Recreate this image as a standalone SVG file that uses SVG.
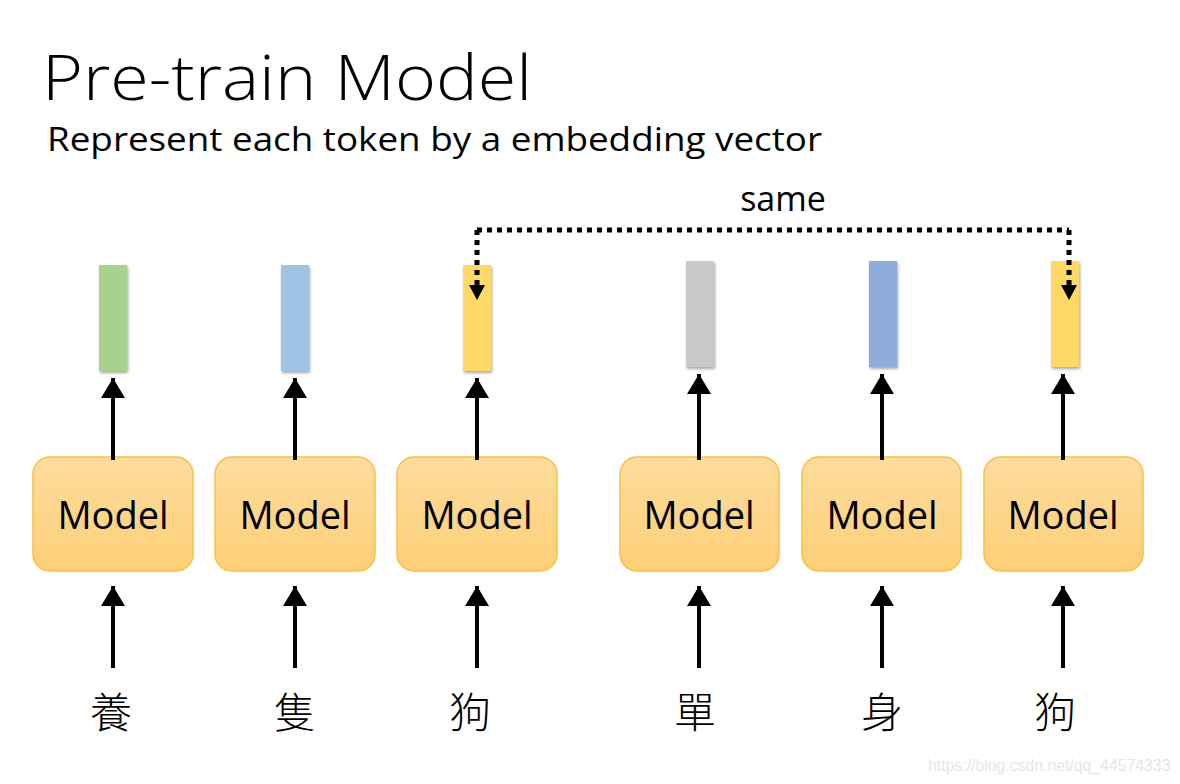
<svg xmlns="http://www.w3.org/2000/svg" width="1180" height="784" viewBox="0 0 1180 784">
<style>
.title{font-family:"Open Sans","Liberation Sans",sans-serif;font-weight:300;font-size:62px;fill:#000}
.sub{font-family:"Open Sans","Liberation Sans",sans-serif;font-size:33px;fill:#000}
.lbl{font-family:"Open Sans","Liberation Sans",sans-serif;font-size:34px;fill:#000;text-anchor:middle}
.mdl{font-family:"Open Sans","Liberation Sans",sans-serif;font-size:38px;fill:#000;text-anchor:middle}
.cjk{font-family:"Noto Sans CJK TC","Noto Sans CJK SC",sans-serif;font-weight:300;font-size:42px;fill:#000;text-anchor:middle}
.box{fill:url(#g);stroke:#F6C143;stroke-width:1.5}
.arr{stroke:#000;stroke-width:4;fill:none;marker-end:url(#ah)}
.dot{stroke:#000;stroke-width:5;fill:none;stroke-dasharray:5 5;marker-end:url(#ah3)}
.wm{font-family:"Liberation Sans",Arial,sans-serif;font-size:15.8px;fill:#e6e6e6}
</style>
<defs>
<linearGradient id="g" x1="0" y1="0" x2="0" y2="1"><stop offset="0" stop-color="#FEDC9E"/><stop offset="1" stop-color="#FDCF77"/></linearGradient>
<marker id="ah" markerWidth="6" markerHeight="6" refX="5" refY="3" orient="auto" markerUnits="strokeWidth"><path d="M0,0 L5,3 L0,6 Z" fill="#000"/></marker>
<marker id="ah3" markerWidth="18" markerHeight="18" refX="2" refY="8" orient="auto" markerUnits="userSpaceOnUse"><path d="M0,0 L15,8 L0,16 Z" fill="#000"/></marker>
<filter id="sh" x="-30%" y="-10%" width="160%" height="130%"><feDropShadow dx="1" dy="2" stdDeviation="1.5" flood-color="#000" flood-opacity="0.35"/></filter>
</defs>
<rect width="1180" height="784" fill="#fff"/>
<text class="title" x="42" y="100" textLength="490" lengthAdjust="spacingAndGlyphs">Pre-train Model</text>
<text class="sub" x="47" y="151" textLength="775" lengthAdjust="spacingAndGlyphs">Represent each token by a embedding vector</text>
<text class="lbl" x="783" y="211">same</text>

<g id="vec1"><rect x="99" y="265" width="28" height="106" fill="#A9D18E" filter="url(#sh)"/></g>
<g id="vec2"><rect x="281" y="265" width="28" height="106" fill="#9DC3E6" filter="url(#sh)"/></g>
<g id="vec3"><rect x="463" y="265" width="28" height="106" fill="#FFD966" filter="url(#sh)"/></g>
<g id="vec4"><rect x="686" y="261" width="28" height="106" fill="#C9C9C9" filter="url(#sh)"/></g>
<g id="vec5"><rect x="869" y="261" width="28" height="106" fill="#8FAADC" filter="url(#sh)"/></g>
<g id="vec6"><rect x="1051" y="261" width="28" height="106" fill="#FFD966" filter="url(#sh)"/></g>

<g id="model1"><rect class="box" x="33" y="457" width="160" height="114" rx="17"/><text class="mdl" x="113" y="529">Model</text></g>
<g id="model2"><rect class="box" x="215" y="457" width="160" height="114" rx="17"/><text class="mdl" x="295" y="529">Model</text></g>
<g id="model3"><rect class="box" x="397" y="457" width="160" height="114" rx="17"/><text class="mdl" x="477" y="529">Model</text></g>
<g id="model4"><rect class="box" x="620" y="457" width="159" height="114" rx="17"/><text class="mdl" x="699" y="529">Model</text></g>
<g id="model5"><rect class="box" x="802" y="457" width="159" height="114" rx="17"/><text class="mdl" x="882" y="529">Model</text></g>
<g id="model6"><rect class="box" x="984" y="457" width="159" height="114" rx="17"/><text class="mdl" x="1063" y="529">Model</text></g>

<g id="tok1"><text class="cjk" x="111" y="728">養</text></g>
<g id="tok2"><text class="cjk" x="295" y="728">隻</text></g>
<g id="tok3"><text class="cjk" x="470" y="728">狗</text></g>
<g id="tok4"><text class="cjk" x="695" y="728">單</text></g>
<g id="tok5"><text class="cjk" x="882" y="728">身</text></g>
<g id="tok6"><text class="cjk" x="1055" y="728">狗</text></g>

<g id="connectors">
<line class="arr" x1="113" y1="668" x2="113" y2="586"/>
<line class="arr" x1="295" y1="668" x2="295" y2="586"/>
<line class="arr" x1="477" y1="668" x2="477" y2="586"/>
<line class="arr" x1="699" y1="668" x2="699" y2="586"/>
<line class="arr" x1="882" y1="668" x2="882" y2="586"/>
<line class="arr" x1="1063" y1="668" x2="1063" y2="586"/>
<line class="arr" x1="113" y1="460" x2="113" y2="378"/>
<line class="arr" x1="295" y1="460" x2="295" y2="378"/>
<line class="arr" x1="477" y1="460" x2="477" y2="378"/>
<line class="arr" x1="699" y1="460" x2="699" y2="374"/>
<line class="arr" x1="882" y1="460" x2="882" y2="374"/>
<line class="arr" x1="1063" y1="460" x2="1063" y2="374"/>
<path d="M477,230 H1069" stroke="#000" stroke-width="5" stroke-dasharray="5 5" fill="none"/>
<path class="dot" d="M477,230 V287"/>
<path class="dot" d="M1069,230 V287"/>
</g>
<text class="wm" x="928" y="771">https://blog.csdn.net/qq_44574333</text>
</svg>
